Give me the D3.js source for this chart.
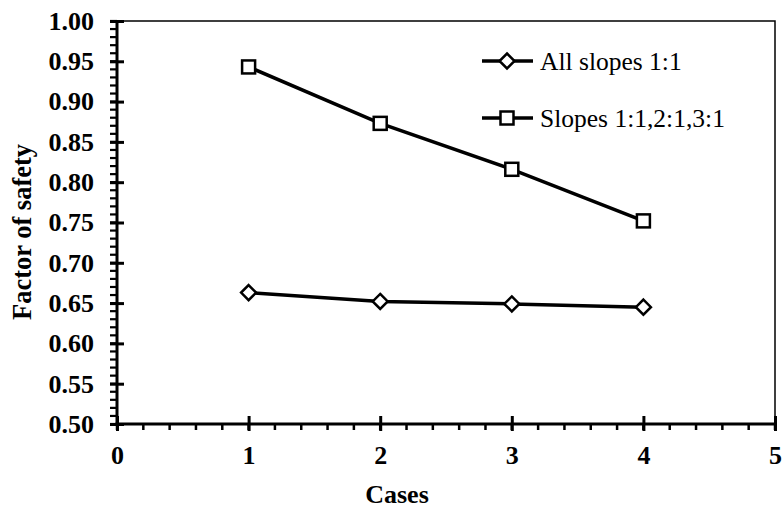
<!DOCTYPE html>
<html><head><meta charset="utf-8">
<script src="https://cdn.jsdelivr.net/npm/d3@7"></script>
<style>html,body{margin:0;padding:0;background:#fff;}svg{display:block;}</style>
</head><body><svg id="c" width="782" height="509"></svg>
<script>
const cases = [1, 2, 3, 4];
const allSlopes = [0.663, 0.652, 0.649, 0.645];
const mixedSlopes = [0.943, 0.873, 0.816, 0.752];
const seriesNames = ["All slopes 1:1", "Slopes 1:1,2:1,3:1"];
const yTicks = [0.50,0.55,0.60,0.65,0.70,0.75,0.80,0.85,0.90,0.95,1.00];
const xTicks = [0,1,2,3,4,5];

const svg = d3.select("#c");
const L = 117, T = 21, R = 775, B = 424;
const x = d3.scaleLinear().domain([0,5]).range([L,R]);
const y = d3.scaleLinear().domain([0.5,1.0]).range([B,T]);
const font = "'Liberation Serif','Times New Roman',serif";

// frame (top/right thin)
svg.append("path").attr("d",`M${L},${T}H${R}V${B}`).attr("fill","none").attr("stroke","#000").attr("stroke-width",1.5);

// minor y ticks
const yMinor = d3.range(50,101).map(d=>d/100);
svg.append("g").selectAll("line").data(yMinor).join("line")
  .attr("x1",L-7).attr("x2",L).attr("y1",d=>y(d)).attr("y2",d=>y(d))
  .attr("stroke","#000").attr("stroke-width",2.2);
// minor x ticks
const xMinor = d3.range(0,26).map(d=>d/5);
svg.append("g").selectAll("line").data(xMinor).join("line")
  .attr("x1",d=>x(d)).attr("x2",d=>x(d)).attr("y1",B).attr("y2",B+6)
  .attr("stroke","#000").attr("stroke-width",2.5);

// y axis
const yAxis = svg.append("g").attr("transform",`translate(${L},0)`)
  .call(d3.axisLeft(y).tickValues(yTicks).tickFormat(d3.format(".2f")).tickSize(7).tickPadding(16));
yAxis.select(".domain").remove();
yAxis.selectAll(".tick line").attr("x2",7).attr("x1",-7).attr("stroke-width",3);
yAxis.selectAll("text").attr("font-family",font).attr("font-weight","bold").attr("font-size",26).attr("fill","#000");
// x axis
const xAxis = svg.append("g").attr("transform",`translate(0,${B})`)
  .call(d3.axisBottom(x).tickValues(xTicks).tickFormat(d3.format("d")).tickSize(7).tickPadding(15));
xAxis.select(".domain").remove();
xAxis.selectAll(".tick line").attr("y1",-8).attr("y2",7).attr("stroke-width",3);
xAxis.selectAll("text").attr("font-family",font).attr("font-weight","bold").attr("font-size",26).attr("fill","#000");

// axis lines
svg.append("line").attr("x1",L).attr("x2",L).attr("y1",T).attr("y2",B+1.5).attr("stroke","#000").attr("stroke-width",3);
svg.append("line").attr("x1",L-1.5).attr("x2",R+1).attr("y1",B).attr("y2",B).attr("stroke","#000").attr("stroke-width",3);

// titles
svg.append("text").attr("x",397).attr("y",503).attr("text-anchor","middle")
  .attr("font-family",font).attr("font-weight","bold").attr("font-size",26).text("Cases");
svg.append("text").attr("transform","translate(31,232) rotate(-90)").attr("text-anchor","middle")
  .attr("font-family",font).attr("font-weight","bold").attr("font-size",26.5).text("Factor of safety");

const line = d3.line().x(d=>x(d[0])).y(d=>y(d[1]));
const d1 = cases.map((c,i)=>[c,allSlopes[i]]);
const d2 = cases.map((c,i)=>[c,mixedSlopes[i]]);

function diamond(g, cx, cy){
  const r=7.5;
  g.append("path").attr("d",`M${cx},${cy-r}L${cx+r},${cy}L${cx},${cy+r}L${cx-r},${cy}Z`)
   .attr("fill","#fff").attr("stroke","#000").attr("stroke-width",2.5);
}
function square(g, cx, cy){
  const s=13;
  g.append("rect").attr("x",cx-s/2).attr("y",cy-s/2).attr("width",s).attr("height",s)
   .attr("fill","#fff").attr("stroke","#000").attr("stroke-width",2.5);
}

const gS = svg.append("g");
gS.append("path").datum(d1).attr("d",line).attr("fill","none").attr("stroke","#000").attr("stroke-width",3.5);
gS.append("path").datum(d2).attr("d",line).attr("fill","none").attr("stroke","#000").attr("stroke-width",3.5);
d1.forEach(d=>diamond(gS,x(d[0]),y(d[1])));
d2.forEach(d=>square(gS,x(d[0]),y(d[1])));

// legend
const leg = svg.append("g");
const legY = [61,118];
[diamond, square].forEach((fn,i)=>{
  leg.append("line").attr("x1",482).attr("x2",533).attr("y1",legY[i]).attr("y2",legY[i]).attr("stroke","#000").attr("stroke-width",3.5);
  fn(leg,507,legY[i]);
  leg.append("text").attr("x",540).attr("y",legY[i]+9).attr("font-family",font).attr("font-size",25.5).text(seriesNames[i]);
});
</script></body></html>
